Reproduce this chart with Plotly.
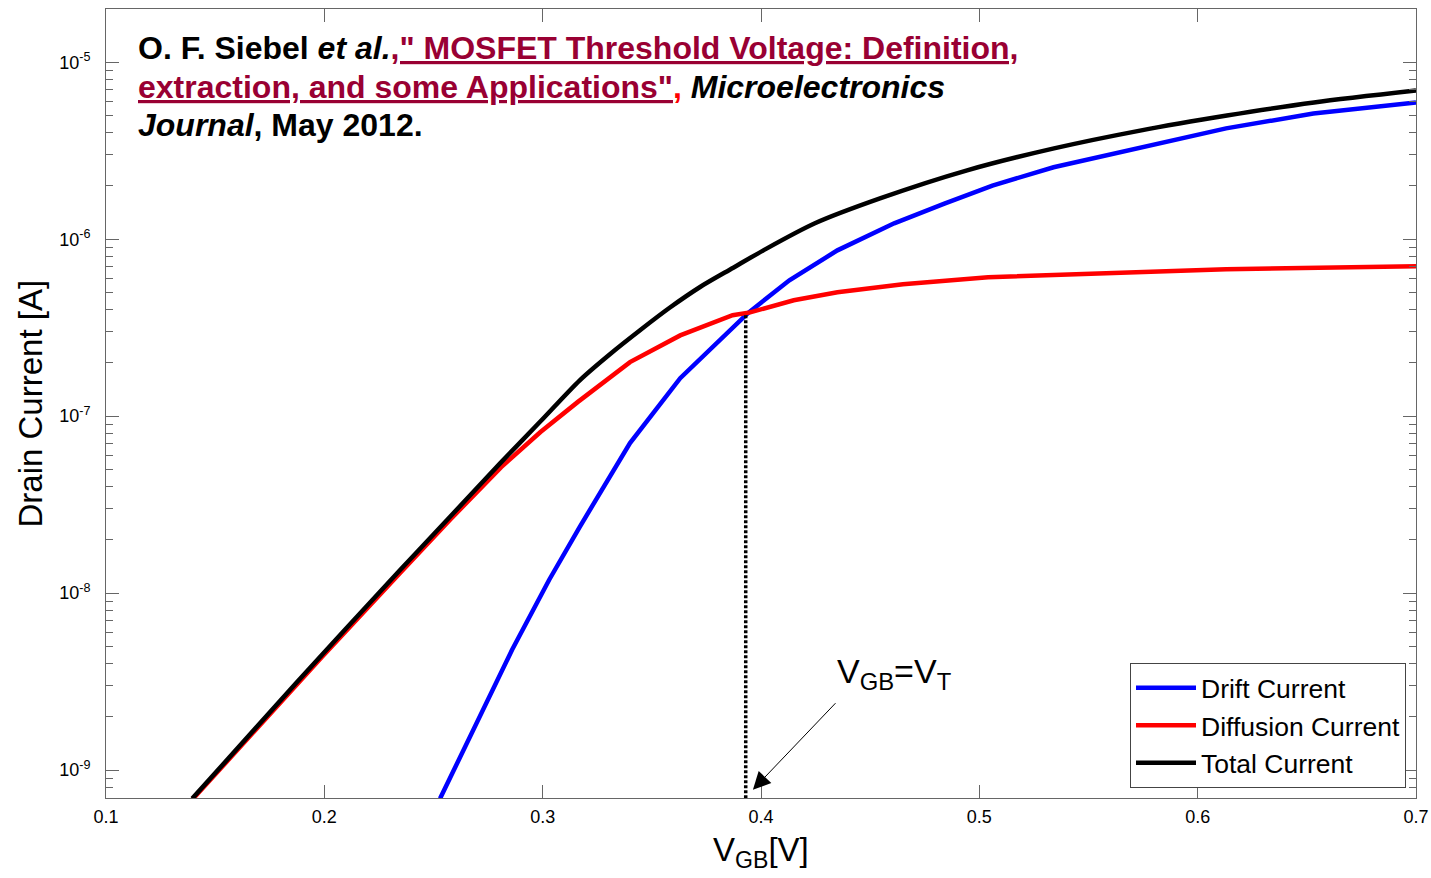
import plotly.graph_objects as go

# ---------------- data ----------------
total_x = [0.1395, 0.187, 0.2347, 0.2576, 0.2805, 0.2988, 0.3171, 0.3308, 0.3446,
           0.3583, 0.3721, 0.3873, 0.4011, 0.4247, 0.4545, 0.4944, 0.5342, 0.5736,
           0.6134, 0.6533, 0.700]
total_y = [6.90e-10, 3.09e-9, 1.35e-8, 2.70e-8, 5.41e-8, 9.29e-8, 1.60e-7, 2.24e-7,
           3.06e-7, 4.11e-7, 5.37e-7, 6.90e-7, 8.65e-7, 1.23e-6, 1.70e-6, 2.45e-6,
           3.26e-6, 4.11e-6, 5.00e-6, 5.93e-6, 6.92e-6]

diff_x = [0.1395, 0.199, 0.2347, 0.2576, 0.281, 0.299, 0.316, 0.340, 0.363, 0.387,
          0.395, 0.415, 0.435, 0.465, 0.504, 0.554, 0.613, 0.700]
diff_y = [6.80e-10, 4.37e-9, 1.30e-8, 2.60e-8, 5.15e-8, 8.13e-8, 1.20e-7, 2.02e-7,
          2.86e-7, 3.72e-7, 3.86e-7, 4.52e-7, 5.01e-7, 5.56e-7, 6.10e-7, 6.41e-7,
          6.76e-7, 7.03e-7]

drift_x = [0.253, 0.286, 0.303, 0.317, 0.340, 0.363, 0.394, 0.413, 0.435, 0.461,
           0.484, 0.506, 0.534, 0.574, 0.613, 0.653, 0.700]
drift_y = [6.90e-10, 4.78e-9, 1.19e-8, 2.37e-8, 7.05e-8, 1.64e-7, 3.82e-7, 5.86e-7,
           8.65e-7, 1.23e-6, 1.59e-6, 2.01e-6, 2.55e-6, 3.30e-6, 4.23e-6, 5.13e-6,
           5.93e-6]

vt_x = [0.393, 0.393]
vt_y = [6.5e-10, 3.80e-7]

x_ticks = [0.1, 0.2, 0.3, 0.4, 0.5, 0.6, 0.7]
x_tick_text = ["0.1", "0.2", "0.3", "0.4", "0.5", "0.6", "0.7"]
y_ticks = [1e-9, 1e-8, 1e-7, 1e-6, 1e-5]
y_tick_text = ["10<sup>-9</sup>", "10<sup>-8</sup>", "10<sup>-7</sup>",
               "10<sup>-6</sup>", "10<sup>-5</sup>"]

series_names = ["Drift Current", "Diffusion Current", "Total Current"]
series_colors = ["#0000FF", "#FF0000", "#000000"]

# ---------------- layout geometry ----------------
W, H = 1431, 878
L, R, T, B = 106, 15, 9, 80
PW, PH = W - L - R, H - T - B


def pxx(px):
    return (px - L) / PW


def pxy(py):
    return (H - B - py) / PH


FONT = "Liberation Sans, Arial, sans-serif"
AXC = "#666666"

fig = go.Figure()
fig.add_trace(go.Scatter(x=drift_x, y=drift_y, mode="lines", name=series_names[0],
                         line=dict(color=series_colors[0], width=4.5)))
fig.add_trace(go.Scatter(x=diff_x, y=diff_y, mode="lines", name=series_names[1],
                         line=dict(color=series_colors[1], width=4.5)))
fig.add_trace(go.Scatter(x=total_x, y=total_y, mode="lines", name=series_names[2],
                         line=dict(color=series_colors[2], width=4.5,
                                   shape="spline", smoothing=0.8)))
fig.add_trace(go.Scatter(x=vt_x, y=vt_y, mode="lines", showlegend=False,
                         line=dict(color="black", width=3.5, dash="3px,2px")))

minor_vals = [k * 10.0 ** e for e in range(-10, -4) for k in range(2, 10)]

fig.update_layout(
    width=W, height=H,
    margin=dict(l=L, r=R, t=T, b=B, pad=0, autoexpand=False),
    paper_bgcolor="white", plot_bgcolor="white",
    font=dict(family=FONT, color="black", size=18),
    showlegend=True,
    legend=dict(x=pxx(1406), y=pxy(788), xanchor="right", yanchor="bottom",
                bgcolor="white", bordercolor="#444444", borderwidth=1,
                font=dict(size=26.5, family=FONT), tracegroupgap=0,
                itemwidth=60),
    xaxis=dict(range=[0.1, 0.7], tickvals=x_ticks, ticktext=x_tick_text,
               ticks="inside", ticklen=13, tickcolor=AXC, tickwidth=1,
               showline=True, linecolor=AXC, linewidth=1, mirror="ticks",
               showgrid=False, zeroline=False, tickfont=dict(size=18),
               ticklabelstandoff=2, automargin=False),
    yaxis=dict(type="log", range=[-9.158, -4.699], tickvals=y_ticks,
               ticktext=y_tick_text, ticks="inside", ticklen=13, tickcolor=AXC,
               tickwidth=1, showline=True, linecolor=AXC, linewidth=1,
               mirror="ticks", showgrid=False, zeroline=False,
               tickfont=dict(size=18), ticklabelstandoff=11, automargin=False,
               minor=dict(tickvals=minor_vals, ticks="inside", ticklen=7,
                          tickcolor=AXC, tickwidth=1, showgrid=False)),
)

RED_DARK = "#990033"
line1 = ('<b>O. F. Siebel <i>et al.</i>'
         '<span style="color:' + RED_DARK + ';text-decoration:underline">'
         ',\u0022 MOSFET Threshold Voltage: Definition,</span></b>')
line2 = ('<b><span style="color:' + RED_DARK + ';text-decoration:underline">'
         'extraction, and some Applications\u0022</span>'
         '<span style="color:#FF0000">,</span> <i>Microelectronics</i></b>')
line3 = '<b><i>Journal</i>, May 2012.</b>'

annotations = []
for txt, yc in [(line1, 48), (line2, 86.5), (line3, 125)]:
    annotations.append(dict(xref="paper", yref="paper", x=pxx(136), y=pxy(yc),
                            xanchor="left", yanchor="middle", align="left",
                            showarrow=False, text=txt,
                            font=dict(size=32, family=FONT, color="black")))

annotations += [
    # axis titles
    dict(xref="paper", yref="paper", x=pxx(30), y=0.5, xanchor="center",
         yanchor="middle", showarrow=False, textangle=-90,
         text="Drain Current [A]", font=dict(size=33, family=FONT)),
    dict(xref="paper", yref="paper", x=pxx(761), y=pxy(829), xanchor="center",
         yanchor="top", showarrow=False, text="V<sub>GB</sub>[V]",
         font=dict(size=33, family=FONT)),
    # V_GB = V_T label
    dict(xref="paper", yref="paper", x=pxx(894), y=pxy(673), xanchor="center",
         yanchor="middle", showarrow=False, text="V<sub>GB</sub>=V<sub>T</sub>",
         font=dict(size=34, family=FONT)),
    # arrow
    dict(x=0.3963, y=-9.111, xref="x", yref="y", text="", showarrow=True,
         ax=84, ay=-88, arrowhead=2, arrowsize=3.5, arrowwidth=1,
         arrowcolor="black", standoff=0),
]
fig.update_layout(annotations=annotations)

fig.write_html("out.html")
